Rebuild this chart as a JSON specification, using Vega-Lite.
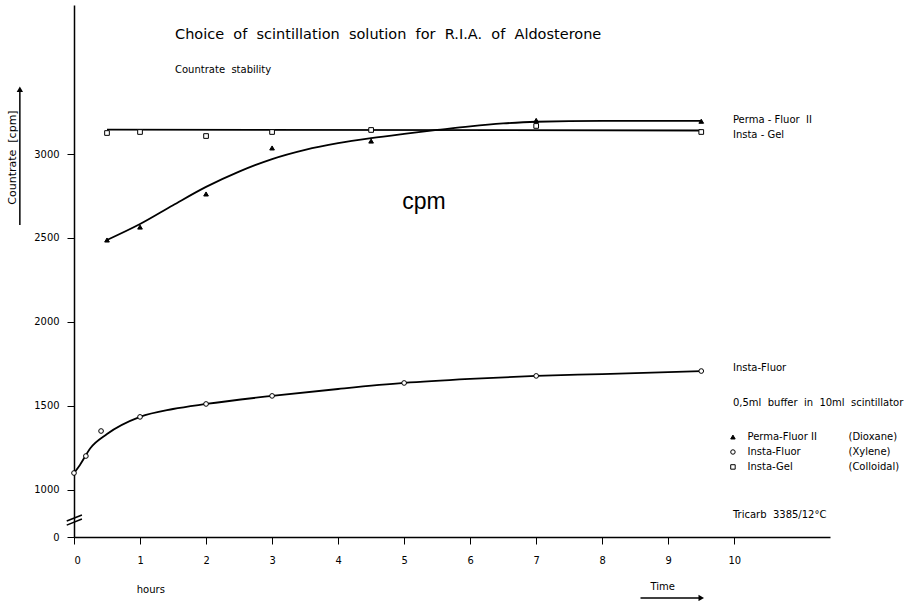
{
  "$schema": "https://vega.github.io/schema/vega-lite/v6.json",
  "width": 756,
  "height": 532,
  "autosize": {"type": "none"},
  "padding": {"left": 74, "top": 5, "right": 89, "bottom": 64},
  "background": "white",
  "config": {"view": {"stroke": null}, "font": "DejaVu Sans"},
  "datasets": {
    "points": [
      {"series": "Insta-Gel", "hours": 0.5, "cpm": 3125},
      {"series": "Insta-Gel", "hours": 1, "cpm": 3131},
      {"series": "Insta-Gel", "hours": 2, "cpm": 3107},
      {"series": "Insta-Gel", "hours": 3, "cpm": 3131},
      {"series": "Insta-Gel", "hours": 4.5, "cpm": 3143},
      {"series": "Insta-Gel", "hours": 7, "cpm": 3167},
      {"series": "Insta-Gel", "hours": 9.5, "cpm": 3131},
      {"series": "Perma-Fluor II", "hours": 0.5, "cpm": 2488},
      {"series": "Perma-Fluor II", "hours": 1, "cpm": 2565},
      {"series": "Perma-Fluor II", "hours": 2, "cpm": 2762},
      {"series": "Perma-Fluor II", "hours": 3, "cpm": 3036},
      {"series": "Perma-Fluor II", "hours": 4.5, "cpm": 3077},
      {"series": "Perma-Fluor II", "hours": 7, "cpm": 3200},
      {"series": "Perma-Fluor II", "hours": 9.5, "cpm": 3195},
      {"series": "Insta-Fluor", "hours": 0, "cpm": 1101},
      {"series": "Insta-Fluor", "hours": 0.18, "cpm": 1202},
      {"series": "Insta-Fluor", "hours": 0.41, "cpm": 1351},
      {"series": "Insta-Fluor", "hours": 1, "cpm": 1435},
      {"series": "Insta-Fluor", "hours": 2, "cpm": 1512},
      {"series": "Insta-Fluor", "hours": 3, "cpm": 1560},
      {"series": "Insta-Fluor", "hours": 5, "cpm": 1637},
      {"series": "Insta-Fluor", "hours": 7, "cpm": 1679},
      {"series": "Insta-Fluor", "hours": 9.5, "cpm": 1708}
    ],
    "curves": [
      {"series": "Insta-Gel", "hours": 0.5, "cpm": 3145},
      {"series": "Insta-Gel", "hours": 9.5, "cpm": 3140},
      {"series": "Perma-Fluor II", "hours": 0.5, "cpm": 2488},
      {"series": "Perma-Fluor II", "hours": 1, "cpm": 2583},
      {"series": "Perma-Fluor II", "hours": 1.5, "cpm": 2695},
      {"series": "Perma-Fluor II", "hours": 2, "cpm": 2804},
      {"series": "Perma-Fluor II", "hours": 2.5, "cpm": 2895},
      {"series": "Perma-Fluor II", "hours": 3, "cpm": 2970},
      {"series": "Perma-Fluor II", "hours": 3.5, "cpm": 3025},
      {"series": "Perma-Fluor II", "hours": 4, "cpm": 3065},
      {"series": "Perma-Fluor II", "hours": 4.5, "cpm": 3095},
      {"series": "Perma-Fluor II", "hours": 5, "cpm": 3120},
      {"series": "Perma-Fluor II", "hours": 5.5, "cpm": 3143},
      {"series": "Perma-Fluor II", "hours": 6, "cpm": 3165},
      {"series": "Perma-Fluor II", "hours": 6.5, "cpm": 3182},
      {"series": "Perma-Fluor II", "hours": 7, "cpm": 3192},
      {"series": "Perma-Fluor II", "hours": 8, "cpm": 3197},
      {"series": "Perma-Fluor II", "hours": 9.5, "cpm": 3197},
      {"series": "Insta-Fluor", "hours": 0, "cpm": 1100},
      {"series": "Insta-Fluor", "hours": 0.09, "cpm": 1149},
      {"series": "Insta-Fluor", "hours": 0.25, "cpm": 1250},
      {"series": "Insta-Fluor", "hours": 0.5, "cpm": 1333},
      {"series": "Insta-Fluor", "hours": 1, "cpm": 1435},
      {"series": "Insta-Fluor", "hours": 1.5, "cpm": 1482},
      {"series": "Insta-Fluor", "hours": 2, "cpm": 1512},
      {"series": "Insta-Fluor", "hours": 3, "cpm": 1560},
      {"series": "Insta-Fluor", "hours": 4, "cpm": 1601},
      {"series": "Insta-Fluor", "hours": 5, "cpm": 1637},
      {"series": "Insta-Fluor", "hours": 6, "cpm": 1661},
      {"series": "Insta-Fluor", "hours": 7, "cpm": 1679},
      {"series": "Insta-Fluor", "hours": 8, "cpm": 1690},
      {"series": "Insta-Fluor", "hours": 9.5, "cpm": 1708}
    ],
    "legendsym": [
      {"series": "Perma-Fluor II", "hours": 9.98, "cpm": 1315},
      {"series": "Insta-Fluor", "hours": 9.98, "cpm": 1226},
      {"series": "Insta-Gel", "hours": 9.98, "cpm": 1137}
    ],
    "notes": [
      {"text": "Perma - Fluor \u00a0II", "hours": 9.98, "cpm": 3202},
      {"text": "Insta - Gel", "hours": 9.98, "cpm": 3113},
      {"text": "Insta-Fluor", "hours": 9.98, "cpm": 1726},
      {"text": "0,5ml \u00a0buffer \u00a0in \u00a010ml \u00a0scintillator", "hours": 9.98, "cpm": 1518},
      {"text": "Perma-Fluor II", "hours": 10.2, "cpm": 1315},
      {"text": "Insta-Fluor", "hours": 10.2, "cpm": 1226},
      {"text": "Insta-Gel", "hours": 10.2, "cpm": 1137},
      {"text": "(Dioxane)", "hours": 11.73, "cpm": 1315},
      {"text": "(Xylene)", "hours": 11.73, "cpm": 1226},
      {"text": "(Colloidal)", "hours": 11.73, "cpm": 1137},
      {"text": "Tricarb \u00a03385/12°C", "hours": 9.98, "cpm": 851},
      {"text": "Countrate \u00a0stability", "hours": 1.53, "cpm": 3500},
      {"text": "hours", "hours": 0.95, "cpm": 405},
      {"text": "Time", "hours": 8.73, "cpm": 420}
    ],
    "titles": [
      {"text": "Choice \u00a0of \u00a0scintillation \u00a0solution \u00a0for \u00a0R.I.A. \u00a0of \u00a0Aldosterone", "hours": 1.53, "cpm": 3708}
    ],
    "big": [
      {"text": "cpm", "hours": 5.3, "cpm": 2714}
    ],
    "segments": [
      {"h1": -0.11, "h2": 0.12, "v1": 815, "v2": 851},
      {"h1": -0.11, "h2": 0.12, "v1": 791, "v2": 827},
      {"h1": -0.82, "h2": -0.82, "v1": 2577, "v2": 3380},
      {"h1": 8.58, "h2": 9.5, "v1": 357, "v2": 357}
    ],
    "heads": [
      {"dir": "up", "hours": -0.82, "cpm": 3385},
      {"dir": "right", "hours": 9.5, "cpm": 357}
    ]
  },
  "layer": [
    {
      "data": {"name": "curves"},
      "mark": {"type": "line", "color": "black", "strokeWidth": 1.8, "interpolate": "monotone"},
      "encoding": {
        "x": {"field": "hours", "type": "quantitative", "scale": {"domain": [0, 11.45], "nice": false, "zero": false},
          "axis": {"values": [0,1,2,3,4,5,6,7,8,9,10], "format": "d", "title": null, "grid": false, "tickSize": 7, "labelPadding": 10, "labelFontSize": 11, "labelColor": "black", "domainColor": "black", "tickColor": "black", "domainWidth": 1.5, "labelFont": "DejaVu Sans Condensed"}},
        "y": {"field": "cpm", "type": "quantitative", "scale": {"domain": [720, 3887], "nice": false, "zero": false},
          "axis": {"values": [720, 1000, 1500, 2000, 2500, 3000], "labelExpr": "datum.value == 720 ? '0' : datum.value", "title": "Countrate \u00a0[cpm]", "titleX": -62, "titleY": 152, "titleAngle": 270, "titleAlign": "center", "titleBaseline": "middle", "titleFontSize": 11, "titleFontWeight": "normal", "titleFont": "DejaVu Sans", "grid": false, "tickSize": 7, "labelPadding": 8, "labelFontSize": 11, "labelColor": "black", "domainColor": "black", "tickColor": "black", "domainWidth": 1.5, "labelFont": "DejaVu Sans Condensed"}},
        "detail": {"field": "series"}
      }
    },
    {
      "data": {"name": "points"},
      "mark": {"type": "point", "stroke": "black", "strokeWidth": 1, "size": 22, "opacity": 1},
      "encoding": {
        "x": {"field": "hours", "type": "quantitative"},
        "y": {"field": "cpm", "type": "quantitative"},
        "shape": {"field": "series", "type": "nominal", "scale": {"domain": ["Perma-Fluor II", "Insta-Fluor", "Insta-Gel"], "range": ["triangle-up", "circle", "square"]}, "legend": null},
        "fill": {"field": "series", "type": "nominal", "scale": {"domain": ["Perma-Fluor II", "Insta-Fluor", "Insta-Gel"], "range": ["black", "white", "white"]}, "legend": null}
      }
    },
    {
      "data": {"name": "legendsym"},
      "mark": {"type": "point", "stroke": "black", "strokeWidth": 1, "size": 20, "opacity": 1},
      "encoding": {
        "x": {"field": "hours", "type": "quantitative"},
        "y": {"field": "cpm", "type": "quantitative"},
        "shape": {"field": "series", "type": "nominal", "legend": null},
        "fill": {"field": "series", "type": "nominal", "legend": null}
      }
    },
    {
      "data": {"name": "notes"},
      "mark": {"type": "text", "align": "left", "baseline": "middle", "fontSize": 10, "color": "black", "font": "DejaVu Sans"},
      "encoding": {
        "x": {"field": "hours", "type": "quantitative"},
        "y": {"field": "cpm", "type": "quantitative"},
        "text": {"field": "text"}
      }
    },
    {
      "data": {"name": "titles"},
      "mark": {"type": "text", "align": "left", "baseline": "middle", "fontSize": 14.5, "color": "black", "font": "DejaVu Sans"},
      "encoding": {
        "x": {"field": "hours", "type": "quantitative"},
        "y": {"field": "cpm", "type": "quantitative"},
        "text": {"field": "text"}
      }
    },
    {
      "data": {"name": "big"},
      "mark": {"type": "text", "align": "center", "baseline": "middle", "fontSize": 23, "color": "black", "font": "Liberation Sans"},
      "encoding": {
        "x": {"field": "hours", "type": "quantitative"},
        "y": {"field": "cpm", "type": "quantitative"},
        "text": {"field": "text"}
      }
    },
    {
      "data": {"name": "segments"},
      "mark": {"type": "rule", "color": "black", "strokeWidth": 1.5},
      "encoding": {
        "x": {"field": "h1", "type": "quantitative"},
        "x2": {"field": "h2"},
        "y": {"field": "v1", "type": "quantitative"},
        "y2": {"field": "v2"}
      }
    },
    {
      "data": {"name": "heads"},
      "transform": [{"filter": "datum.dir == 'up'"}],
      "mark": {"type": "point", "shape": "triangle-up", "filled": true, "color": "black", "size": 40, "opacity": 1},
      "encoding": {
        "x": {"field": "hours", "type": "quantitative"},
        "y": {"field": "cpm", "type": "quantitative"}
      }
    },
    {
      "data": {"name": "heads"},
      "transform": [{"filter": "datum.dir == 'right'"}],
      "mark": {"type": "point", "shape": "triangle-right", "filled": true, "color": "black", "size": 40, "opacity": 1},
      "encoding": {
        "x": {"field": "hours", "type": "quantitative"},
        "y": {"field": "cpm", "type": "quantitative"}
      }
    }
  ]
}
